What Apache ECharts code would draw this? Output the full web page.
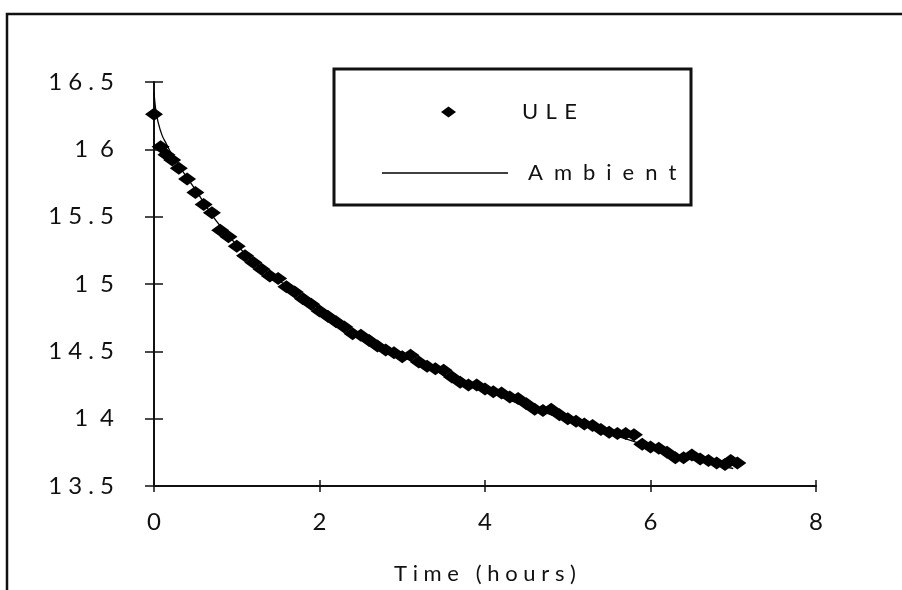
<!DOCTYPE html>
<html>
<head>
<meta charset="utf-8">
<script src="https://cdn.jsdelivr.net/npm/echarts@6/dist/echarts.min.js"></script>
<style>
html,body{margin:0;padding:0;background:#fff;}
#chart{width:902px;height:590px;}
</style>
</head>
<body>
<div id="chart"></div>
<script>
// ---- data ----
var uleTime = [0.00,0.08,0.15,0.22,0.30,0.40,0.50,0.60,0.70,0.80,0.90,1.00,1.10,1.20,1.30,1.40,1.50,1.60,1.70,1.80,1.90,2.00,2.10,2.20,2.30,2.40,2.50,2.60,2.70,2.80,2.90,3.00,3.10,3.20,3.30,3.40,3.50,3.60,3.70,3.80,3.90,4.00,4.10,4.20,4.30,4.40,4.50,4.60,4.70,4.80,4.90,5.00,5.10,5.20,5.30,5.40,5.50,5.60,5.70,5.80,5.90,6.00,6.10,6.20,6.30,6.40,6.50,6.60,6.70,6.80,6.90,6.97,7.05];
var uleTemp = [16.26,16.02,15.96,15.92,15.86,15.78,15.68,15.59,15.53,15.40,15.35,15.28,15.21,15.16,15.11,15.06,15.04,14.98,14.94,14.89,14.85,14.80,14.76,14.72,14.68,14.63,14.62,14.58,14.54,14.51,14.49,14.46,14.47,14.42,14.39,14.37,14.36,14.31,14.27,14.25,14.25,14.22,14.20,14.19,14.16,14.15,14.11,14.07,14.06,14.07,14.03,14.00,13.98,13.96,13.95,13.92,13.90,13.89,13.89,13.88,13.81,13.79,13.78,13.75,13.71,13.71,13.73,13.70,13.69,13.67,13.66,13.69,13.67];
var ambTime = [0,0.02,0.05,0.10,0.15,0.20,0.30,0.40,0.50,0.75,1.00,1.25,1.50,1.75,2.00,2.25,2.50,2.75,3.00,3.25,3.50,3.75,4.00,4.25,4.50,4.75,5.00,5.25,5.50,5.75,6.00,6.25,6.50,6.75,7.00];
var ambTemp = [16.42,16.30,16.20,16.10,16.04,15.98,15.88,15.79,15.70,15.47,15.29,15.14,15.03,14.93,14.82,14.71,14.62,14.53,14.46,14.39,14.33,14.26,14.21,14.15,14.09,14.04,13.99,13.94,13.89,13.84,13.79,13.74,13.70,13.66,13.63];
var seriesNames = ['ULE', 'Ambient'];
var xTicks = [0, 2, 4, 6, 8];
var xTickLabels = ['0', '2', '4', '6', '8'];
var yTicks = [13.5, 14, 14.5, 15, 15.5, 16, 16.5];
var yTickLabels = ['1 3 . 5', '1\u20024', '1 4 . 5', '1\u20025', '1 5 . 5', '1\u20026', '1 6 . 5'];
var xTitle = 'T i m e   ( h o u r s )';

// ---- chart ----
var FONT = 'Lato';
function pairs(xs, ys){ return xs.map(function(x,i){ return [x, ys[i]]; }); }
function lab(ticks, labels){ return function(v){ for (var i=0;i<ticks.length;i++){ if (Math.abs(ticks[i]-v)<1e-6) return labels[i]; } return ''; }; }
function spacedWith(sep){ return function(s){ return s.split('').join(sep); }; }

var chart = echarts.init(document.getElementById('chart'), null, {renderer:'canvas'});
chart.setOption({
  animation:false,
  backgroundColor:'#fff',
  grid: {left:154, right:86, top:82, bottom:97},
  xAxis: [
    {type:'value', min:0, max:8, interval:2, splitLine:{show:false},
     axisLine:{show:true, onZero:false, lineStyle:{color:'#111', width:2}},
     axisTick:{show:true, inside:false, length:6, lineStyle:{color:'#111', width:1.5}},
     axisLabel:{margin:24, color:'#111', fontFamily:FONT, fontSize:24, formatter: lab(xTicks, xTickLabels)},
     name: xTitle, nameLocation:'middle', nameGap:77,
     nameTextStyle:{color:'#111', fontFamily:FONT, fontSize:22}},
    {type:'value', min:0, max:8, interval:2, position:'bottom', splitLine:{show:false},
     axisLine:{show:false, onZero:false}, axisLabel:{show:false},
     axisTick:{show:true, inside:true, length:6, lineStyle:{color:'#111', width:1.5}}}
  ],
  yAxis: [
    {type:'value', min:13.5, max:16.5, interval:0.5, splitLine:{show:false},
     axisLine:{show:true, onZero:false, lineStyle:{color:'#111', width:2}},
     axisTick:{show:true, inside:false, length:9, lineStyle:{color:'#111', width:1.5}},
     axisLabel:{margin:40, color:'#111', fontFamily:FONT, fontSize:24, formatter: lab(yTicks, yTickLabels)}},
    {type:'value', min:13.5, max:16.5, interval:0.5, position:'left', splitLine:{show:false},
     axisLine:{show:false, onZero:false}, axisLabel:{show:false},
     axisTick:{show:true, inside:true, length:9, lineStyle:{color:'#111', width:1.5}}}
  ],
  legend: [
    {data:[{name:seriesNames[0], icon:'diamond'}], orient:'horizontal', left:436, top:96,
     itemWidth:15, itemHeight:11, selectedMode:false, formatter: spacedWith('\u2004'),
     textStyle:{color:'#111', fontFamily:FONT, fontSize:22, padding:[0,0,0,61]}},
    {data:[{name:seriesNames[1], icon:'rect'}], orient:'horizontal', left:377, top:157,
     itemWidth:126, itemHeight:1.5, selectedMode:false, formatter: spacedWith('\u2002'),
     textStyle:{color:'#111', fontFamily:FONT, fontSize:22, padding:[0,0,0,15]}}
  ],
  graphic: [
    {type:'rect', shape:{x:334, y:69, width:357, height:136}, style:{fill:null, stroke:'#111', lineWidth:3}, silent:true},
    {type:'rect', shape:{x:7, y:14, width:920, height:620}, style:{fill:null, stroke:'#111', lineWidth:2.5}, silent:true}
  ],
  series: [
    {name:seriesNames[0], type:'scatter', xAxisIndex:0, yAxisIndex:0,
     symbol:'diamond', symbolSize:[18,13], itemStyle:{color:'#000', opacity:1}, z:3,
     data: pairs(uleTime, uleTemp)},
    {name:seriesNames[1], type:'line', xAxisIndex:0, yAxisIndex:0,
     symbol:'none', smooth:0.3, lineStyle:{color:'#000', width:1.3}, itemStyle:{color:'#000'}, z:4,
     data: pairs(ambTime, ambTemp)}
  ]
});
</script>
</body>
</html>
